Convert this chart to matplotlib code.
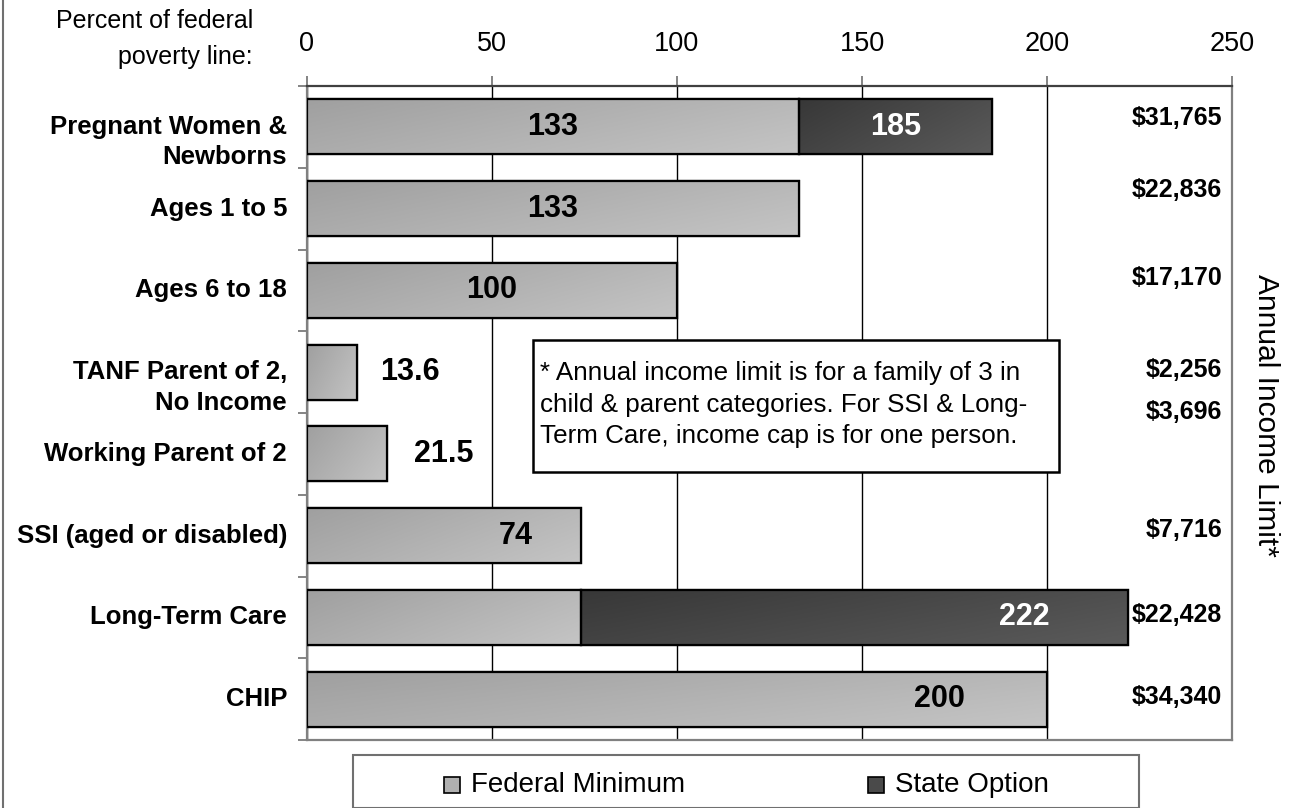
import numpy as np
import matplotlib
matplotlib.use("Agg")
import matplotlib.pyplot as plt
from matplotlib.colors import LinearSegmentedColormap
from matplotlib.patches import Rectangle
from matplotlib.lines import Line2D

plt.rcParams['font.family'] = ['Liberation Sans', 'DejaVu Sans']

# data
categories = ["Pregnant Women &\nNewborns", "Ages 1 to 5", "Ages 6 to 18",
              "TANF Parent of 2,\nNo Income", "Working Parent of 2",
              "SSI (aged or disabled)", "Long-Term Care", "CHIP"]
federal_min = [133, 133, 100, 13.6, 21.5, 74, 74, 200]
state_option = [185, 0, 0, 0, 0, 0, 222, 0]   # total limit with state option
federal_text = ["133", "133", "100", "13.6", "21.5", "74", "", "200"]
state_text = ["185", "", "", "", "", "", "222", ""]
income_limit = ["$31,765", "$22,836", "$17,170", "$2,256", "$3,696",
                "$7,716", "$22,428", "$34,340"]
xticks = [0, 50, 100, 150, 200, 250]

# label placement (x in percent units, y shift in category units)
federal_text_x = [66.5, 66.5, 50, 27.7, 37.0, 56.5, 0, 171]
state_text_x = [159, 0, 0, 0, 0, 0, 194, 0]
income_dy = [-0.11, -0.225, -0.15, -0.02, -0.51, -0.07, -0.025, -0.025]

note = ("* Annual income limit is for a family of 3 in\n"
        "child & parent categories. For SSI & Long-\n"
        "Term Care, income cap is for one person.")

W, H = 1289, 808
fig = plt.figure(figsize=(W / 100, H / 100), dpi=100)


def fx(x):
    return x / W


def fy(y):
    return 1 - y / H


ax = fig.add_axes([fx(307), fy(740), fx(1232) - fx(307), fy(86) - fy(740)])

light = LinearSegmentedColormap.from_list("light", ["#a0a0a0", "#c4c4c4"])
dark = LinearSegmentedColormap.from_list("dark", ["#383838", "#5a5a5a"])
grad = np.add.outer(np.linspace(0, 0.5, 20), np.linspace(0, 1, 60))
grad = grad / grad.max()

ypos = np.arange(len(categories))
fed_bars = ax.barh(ypos, federal_min, height=0.67, color="#b0b0b0",
                   edgecolor="black", linewidth=1.6, zorder=3)
extra = [s - f if s > 0 else 0 for s, f in zip(state_option, federal_min)]
st_bars = ax.barh(ypos, extra, left=federal_min, height=0.67, color="#4a4a4a",
                  edgecolor="black", linewidth=1.6, zorder=3)


def shade(bars, cmap):
    for b in bars:
        if b.get_width() <= 0:
            b.set_visible(False)
            continue
        x0, y0 = b.get_x(), b.get_y()
        x1, y1 = x0 + b.get_width(), y0 + b.get_height()
        im = ax.imshow(grad, cmap=cmap, extent=(x0, x1, y1, y0),
                       aspect="auto", zorder=3.5, interpolation="bilinear")
        im.set_clip_path(b)
        edge = Rectangle((x0, y0), x1 - x0, y1 - y0, facecolor="none",
                         edgecolor="black", linewidth=1.6, zorder=4)
        ax.add_patch(edge)


shade(fed_bars, light)
shade(st_bars, dark)

ax.set_xlim(0, 250)
ax.set_ylim(len(categories) - 0.5, -0.5)
ax.set_aspect("auto")

# axes styling
ax.xaxis.tick_top()
ax.set_xticks(xticks)
ax.tick_params(axis="x", which="major", length=7, pad=14, labelsize=19.5,
               color="#707070", width=1.2)
ax.set_yticks([])
ax.set_yticks(np.arange(-0.5, len(categories) + 0.5, 1), minor=True)
ax.tick_params(axis="y", which="minor", length=6.5, color="#707070", width=1.2,
               labelleft=False)
ax.grid(axis="x", color="black", linewidth=1)
ax.set_axisbelow(True)
ax.spines["top"].set_color("#404040")
ax.spines["top"].set_linewidth(1.6)
for s in ["left", "right", "bottom"]:
    ax.spines[s].set_color("#808080")
    ax.spines[s].set_linewidth(1.6)

# value labels
for i in range(len(categories)):
    if federal_text[i]:
        ax.text(federal_text_x[i], i, federal_text[i], ha="center", va="center",
                fontsize=22, fontweight="bold", color="black", zorder=6)
    if state_text[i]:
        ax.text(state_text_x[i], i, state_text[i], ha="center", va="center",
                fontsize=22, fontweight="bold", color="white", zorder=6)
    nl = categories[i].count("\n")
    ax.text(-5.4, i + 0.185 * nl, categories[i], ha="right", va="center",
            fontsize=18.5, fontweight="bold", linespacing=1.35, clip_on=False)
    ax.text(247.3, i + income_dy[i], income_limit[i], ha="right", va="center",
            fontsize=18, fontweight="bold", zorder=6)

# note box
ax.add_patch(Rectangle((61.1, 2.607), 142.1, 1.615, facecolor="white",
                       edgecolor="black", linewidth=1.8, zorder=5))
ax.text(63.0, 3.40, note, ha="left", va="center", fontsize=18.7,
        linespacing=1.4, zorder=6)

# figure texts
fig.text(fx(253), fy(39), "Percent of federal\npoverty line:", ha="right",
         va="center", fontsize=18, linespacing=1.62)
fig.text(fx(1266), fy(415), "Annual Income Limit*", rotation=270, ha="center",
         va="center", fontsize=21.5)

# legend
fig.add_artist(Rectangle((fx(353), fy(808)), fx(1139) - fx(353), fy(755) - fy(808),
                         transform=fig.transFigure, facecolor="white",
                         edgecolor="#707070", linewidth=1.5))
for sx, col, lab in [(444, "#b0b0b0", "Federal Minimum"), (868, "#4a4a4a", "State Option")]:
    fig.add_artist(Rectangle((fx(sx), fy(793)), fx(16), 16 / H,
                             transform=fig.transFigure, facecolor=col,
                             edgecolor="black", linewidth=1.2))
    fig.text(fx(sx + 27), fy(785), lab, ha="left", va="center", fontsize=20)

# outer border on the left
fig.add_artist(Line2D([fx(2.5), fx(2.5)], [0, 1], transform=fig.transFigure,
                      color="#707070", linewidth=1.5))

fig.savefig("out.png", dpi=100)
